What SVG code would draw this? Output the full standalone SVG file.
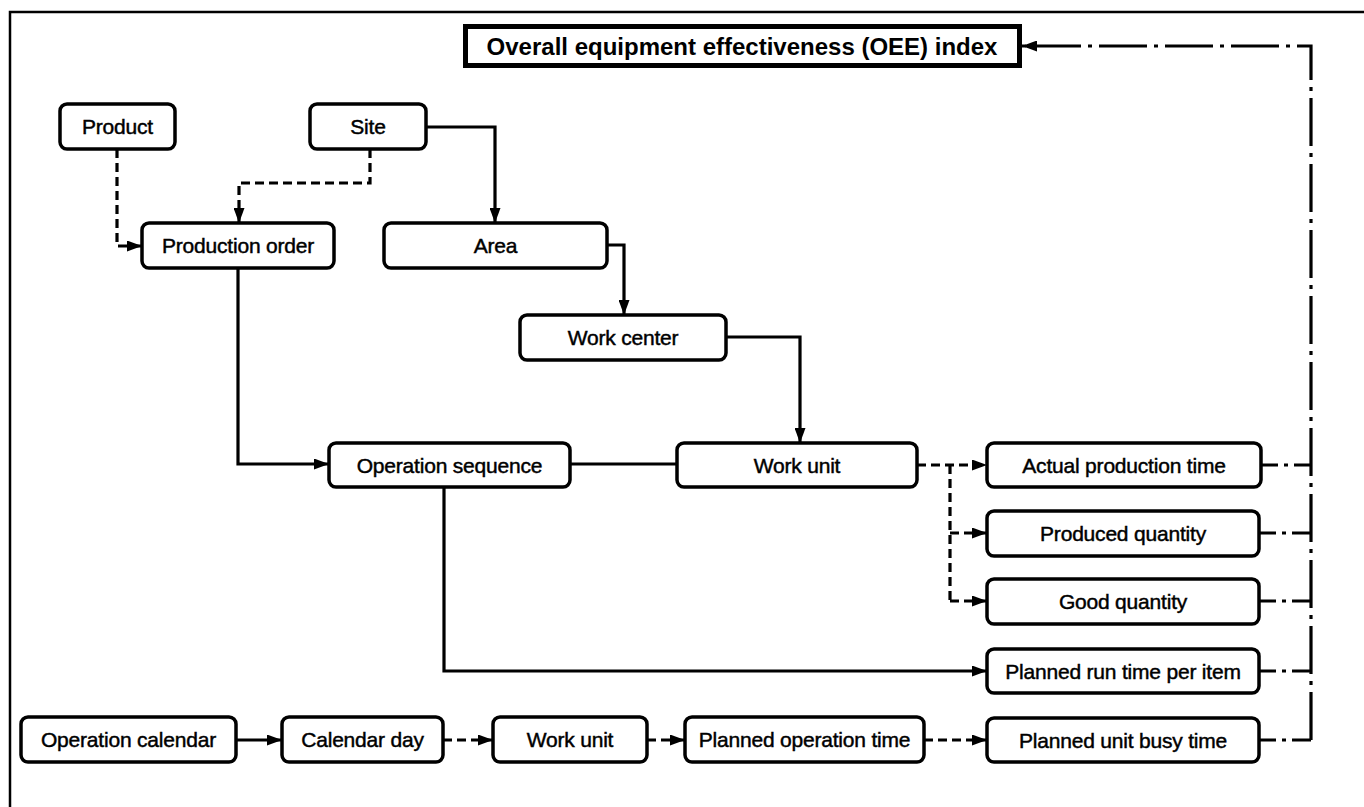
<svg xmlns="http://www.w3.org/2000/svg" width="1364" height="807" viewBox="0 0 1364 807">
<style>
.box{fill:#fff;stroke:#000;stroke-width:3.5}
.t{font-family:"Liberation Sans",Arial,sans-serif;font-size:21px;fill:#000;stroke:#000;stroke-width:0.45;letter-spacing:-0.2px;text-anchor:middle;dominant-baseline:central}
.tb{font-family:"Liberation Sans",Arial,sans-serif;font-size:24px;font-weight:bold;fill:#000;text-anchor:middle;dominant-baseline:central}
.c{fill:none;stroke:#000;stroke-width:3.2}
.d{stroke-dasharray:9 5}
.dd{stroke-dasharray:48 7 4 7}
.ds{stroke-dasharray:17 6 4 6 40}
</style>
<defs>
<marker id="ar" markerUnits="userSpaceOnUse" markerWidth="15" markerHeight="11" refX="15" refY="5.5" orient="auto">
<path d="M0,0 L15,5.5 L0,11 z" fill="#000"/>
</marker>
</defs>
<rect width="1364" height="807" fill="#fff"/>
<path d="M10,807 L10,12 L1364,12" fill="none" stroke="#000" stroke-width="2.5"/>

<g id="connectors">
<path class="c d" d="M117,149 V246 H142" marker-end="url(#ar)"/>
<path class="c d" d="M370,149 V183 H239 V223" marker-end="url(#ar)"/>
<path class="c" d="M426,127 H495 V223" marker-end="url(#ar)"/>
<path class="c" d="M607,245 H624 V315" marker-end="url(#ar)"/>
<path class="c" d="M726,337 H800 V443" marker-end="url(#ar)"/>
<path class="c" d="M238,268 V464 H329" marker-end="url(#ar)"/>
<path class="c" d="M570,464 H677"/>
<path class="c" d="M444,487 V671 H987" marker-end="url(#ar)"/>
<path class="c d" d="M917,465 H987" marker-end="url(#ar)"/>
<path class="c d" d="M950,465 V601"/>
<path class="c d" d="M950,533 H987" marker-end="url(#ar)"/>
<path class="c d" d="M950,601 H987" marker-end="url(#ar)"/>
<path class="c ds" d="M1261,465 H1311"/>
<path class="c ds" d="M1259,533 H1311"/>
<path class="c ds" d="M1259,601 H1311"/>
<path class="c ds" d="M1259,671 H1311"/>
<path class="c ds" d="M1259,740 H1311"/>
<path class="c dd" d="M1311,740 V46 H1022" marker-end="url(#ar)"/>
<path class="c" d="M236,740 H282" marker-end="url(#ar)"/>
<path class="c d" d="M443,740 H493" marker-end="url(#ar)"/>
<path class="c d" d="M647,740 H685" marker-end="url(#ar)"/>
<path class="c d" d="M924,740 H987" marker-end="url(#ar)"/>
</g>

<g id="oee"><rect x="465.5" y="26.5" width="554" height="39" fill="#fff" stroke="#000" stroke-width="5"/><text class="tb" x="742" y="46">Overall equipment effectiveness (OEE) index</text></g>
<g id="product"><rect class="box" x="60" y="104" width="115" height="45" rx="7"/><text class="t" x="117.5" y="126.5">Product</text></g>
<g id="site"><rect class="box" x="310" y="104" width="116" height="45" rx="7"/><text class="t" x="368" y="126.5">Site</text></g>
<g id="production-order"><rect class="box" x="142" y="223" width="192" height="45" rx="7"/><text class="t" x="238" y="245.5">Production order</text></g>
<g id="area"><rect class="box" x="384" y="223" width="223" height="45" rx="7"/><text class="t" x="495.5" y="245.5">Area</text></g>
<g id="work-center"><rect class="box" x="520" y="315" width="206" height="45" rx="7"/><text class="t" x="623" y="337.5">Work center</text></g>
<g id="operation-sequence"><rect class="box" x="329" y="443" width="241" height="44" rx="7"/><text class="t" x="449.5" y="465">Operation sequence</text></g>
<g id="work-unit"><rect class="box" x="677" y="443" width="240" height="44" rx="7"/><text class="t" x="797" y="465">Work unit</text></g>
<g id="actual-production-time"><rect class="box" x="987" y="443" width="274" height="44" rx="7"/><text class="t" x="1124" y="465">Actual production time</text></g>
<g id="produced-quantity"><rect class="box" x="987" y="511" width="272" height="45" rx="7"/><text class="t" x="1123" y="533.5">Produced quantity</text></g>
<g id="good-quantity"><rect class="box" x="987" y="579" width="272" height="45" rx="7"/><text class="t" x="1123" y="601.5">Good quantity</text></g>
<g id="planned-run-time"><rect class="box" x="987" y="649" width="272" height="44" rx="7"/><text class="t" x="1123" y="671">Planned run time per item</text></g>
<g id="planned-unit-busy-time"><rect class="box" x="987" y="718" width="272" height="44" rx="7"/><text class="t" x="1123" y="740">Planned unit busy time</text></g>
<g id="operation-calendar"><rect class="box" x="21" y="717" width="215" height="45" rx="7"/><text class="t" x="128.5" y="739.5">Operation calendar</text></g>
<g id="calendar-day"><rect class="box" x="282" y="717" width="161" height="45" rx="7"/><text class="t" x="362.5" y="739.5">Calendar day</text></g>
<g id="work-unit-2"><rect class="box" x="493" y="717" width="154" height="45" rx="7"/><text class="t" x="570" y="739.5">Work unit</text></g>
<g id="planned-operation-time"><rect class="box" x="685" y="717" width="239" height="45" rx="7"/><text class="t" x="804.5" y="739.5">Planned operation time</text></g>
</svg>
